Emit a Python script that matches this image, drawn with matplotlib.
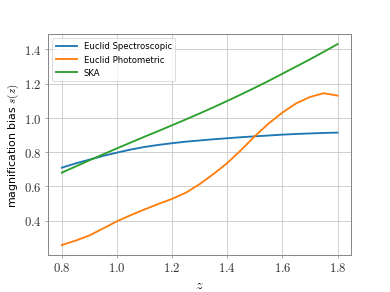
import numpy as np
import matplotlib
matplotlib.use("Agg")
import matplotlib.pyplot as plt
from matplotlib.ticker import FuncFormatter

plt.rcParams['mathtext.fontset'] = 'cm'

z_bins = [0.8, 0.85, 0.9, 0.95, 1.0, 1.05, 1.1, 1.15, 1.2, 1.25, 1.3,
          1.35, 1.4, 1.45, 1.5, 1.55, 1.6, 1.65, 1.7, 1.75, 1.8]
s_spec = [0.709, 0.734, 0.756, 0.778, 0.797, 0.815, 0.830, 0.842, 0.852, 0.861, 0.868,
          0.875, 0.881, 0.887, 0.892, 0.897, 0.902, 0.906, 0.909, 0.912, 0.914]
s_phot = [0.257, 0.283, 0.313, 0.354, 0.396, 0.432, 0.465, 0.497, 0.527, 0.563, 0.613,
          0.672, 0.736, 0.812, 0.893, 0.967, 1.031, 1.085, 1.122, 1.144, 1.130]
s_ska = [0.680, 0.716, 0.752, 0.787, 0.822, 0.856, 0.890, 0.923, 0.957, 0.991, 1.026,
         1.062, 1.099, 1.137, 1.176, 1.216, 1.258, 1.300, 1.342, 1.386, 1.431]

fig = plt.figure(figsize=(6.4, 4.8), dpi=61)
ax = fig.add_axes([0.123, 0.126, 0.777, 0.755])

ax.plot(z_bins, s_spec, color='#1f77b4', lw=2.2, label='Euclid Spectroscopic')
ax.plot(z_bins, s_phot, color='#ff7f0e', lw=2.2, label='Euclid Photometric')
ax.plot(z_bins, s_ska, color='#2ca02c', lw=2.2, label='SKA')

ax.set_xticks([0.8, 1.0, 1.2, 1.4, 1.6, 1.8])
ax.set_yticks([0.4, 0.6, 0.8, 1.0, 1.2, 1.4])
fmt = FuncFormatter(lambda v, p: r'$%.1f$' % v)
ax.xaxis.set_major_formatter(fmt)
ax.yaxis.set_major_formatter(fmt)
ax.tick_params(length=3, color='#888888', labelsize=15, pad=4, labelcolor='#333333')
ax.grid(True, color='#c8c8c8', lw=1)
for sp in ax.spines.values():
    sp.set_color('#888888')
    sp.set_linewidth(1.2)

ax.set_xlabel(r'$z$', fontsize=17)
ax.set_ylabel(r'magnification bias $s(z)$', fontsize=13)
ax.legend(loc='upper left', fontsize=10, handlelength=2.5)

fig.savefig('out.png', dpi=61)
